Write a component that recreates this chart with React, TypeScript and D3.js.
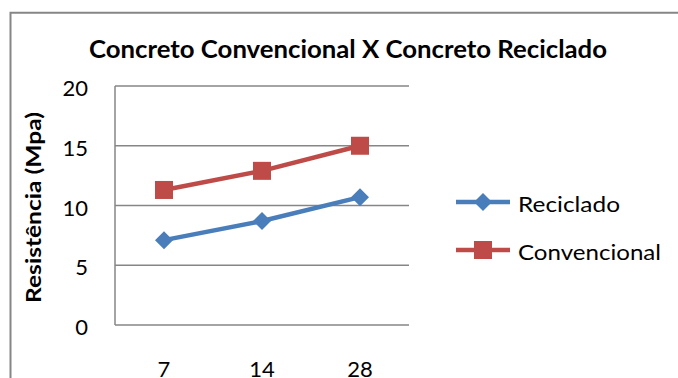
import React from "react";
import * as d3 from "d3";

const categories = ["7", "14", "28"];
const reciclado = [7.1, 8.7, 10.7];
const convencional = [11.3, 12.9, 15.0];
const yTicks = [0, 5, 10, 15, 20];
const seriesNames = ["Reciclado", "Convencional"];
const legendWidths = [102, 143];
const title = "Concreto Convencional X Concreto Reciclado";
const yTitle = "Resistência (Mpa)";

const W = 678;
const H = 378;
const FONT = "Lato, 'Open Sans', sans-serif";
const colors = ["#4A7EBB", "#BE4B48"];

export default function App() {
  const x = d3.scaleBand<string>().domain(categories).range([115, 409]);
  const y = d3.scaleLinear().domain([0, 20]).range([325, 86]);
  const line = d3
    .line<number>()
    .x((_, i) => (x(categories[i]) as number) + x.bandwidth() / 2)
    .y((d) => y(d));
  const series = [reciclado, convencional];

  const marker = (s: number, cx: number, cy: number, key: string) =>
    s === 0 ? (
      <path
        key={key}
        d={`M${cx},${cy - 9}L${cx + 9},${cy}L${cx},${cy + 9}L${cx - 9},${cy}Z`}
        fill={colors[0]}
      />
    ) : (
      <rect key={key} x={cx - 9} y={cy - 9} width={18} height={18} fill={colors[1]} />
    );

  return (
    <svg
      width={W}
      height={H}
      style={{ position: "absolute", left: 0, top: 0, background: "#fff" }}
      fontFamily={FONT}
    >
      <rect x={0} y={0} width={W} height={H} fill="#fff" />
      {/* outer frame */}
      <path d={`M10.5,${H + 5}V12.7H${W + 5}`} fill="none" stroke="#868686" strokeWidth={2} />
      <text
        x={89}
        y={58}
        fontSize={24}
        fontWeight="bold"
        textLength={518}
        lengthAdjust="spacingAndGlyphs"
        fill="#000"
      >
        {title}
      </text>
      {/* gridlines */}
      {yTicks.map((t) => (
        <line key={t} x1={115} x2={409} y1={y(t)} y2={y(t)} stroke="#868686" strokeWidth={1.5} />
      ))}
      <line x1={115} x2={115} y1={y(20)} y2={y(0)} stroke="#868686" strokeWidth={1.5} />
      {yTicks.map((t) => (
        <text key={t} x={88} y={y(t) + 10} textAnchor="end" fontSize={22} fill="#000">
          {t}
        </text>
      ))}
      {categories.map((c) => (
        <text
          key={c}
          x={(x(c) as number) + x.bandwidth() / 2}
          y={376.5}
          textAnchor="middle"
          fontSize={22}
          fill="#000"
        >
          {c}
        </text>
      ))}
      <text
        transform="translate(41,303) rotate(-90)"
        fontSize={21}
        fontWeight="bold"
        textLength={191}
        lengthAdjust="spacingAndGlyphs"
        fill="#000"
      >
        {yTitle}
      </text>
      {series.map((d, s) => (
        <g key={s}>
          <path d={line(d) as string} fill="none" stroke={colors[s]} strokeWidth={4.5} strokeLinejoin="round" />
          {d.map((v, i) =>
            marker(s, (x(categories[i]) as number) + x.bandwidth() / 2, y(v), `${s}-${i}`)
          )}
        </g>
      ))}
      {/* legend */}
      {seriesNames.map((n, s) => {
        const ly = 202 + s * 48;
        return (
          <g key={n}>
            <line x1={456} x2={510} y1={ly} y2={ly} stroke={colors[s]} strokeWidth={4.5} />
            {marker(s, 483, ly, `l${s}`)}
            <text
              x={518}
              y={ly + 10}
              fontSize={22}
              textLength={legendWidths[s]}
              lengthAdjust="spacingAndGlyphs"
              fill="#000"
            >
              {n}
            </text>
          </g>
        );
      })}
    </svg>
  );
}
